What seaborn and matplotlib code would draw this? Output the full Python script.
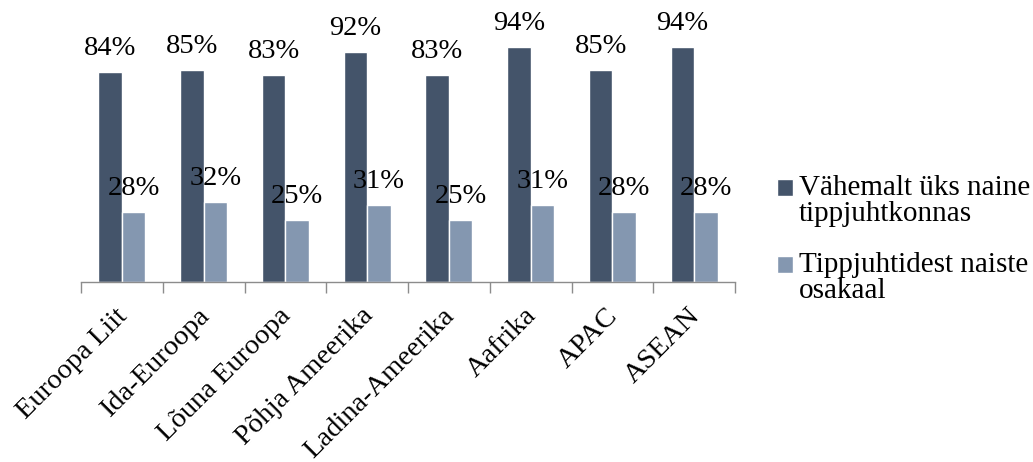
import matplotlib
matplotlib.use("Agg")
import matplotlib.pyplot as plt
import matplotlib.transforms as mtrans
from matplotlib.legend_handler import HandlerPatch
from matplotlib.patches import Patch, Rectangle
import seaborn as sns
import pandas as pd

categories = ["Euroopa Liit", "Ida-Euroopa", "Lõuna Euroopa", "Põhja Ameerika",
              "Ladina-Ameerika", "Aafrika", "APAC", "ASEAN"]
series_names = ["Vähemalt üks naine\ntippjuhtkonnas", "Tippjuhtidest naiste\nosakaal"]
at_least_one = [84, 85, 83, 92, 83, 94, 85, 94]
share_women = [28, 32, 25, 31, 25, 31, 28, 28]
colors = ["#44546A", "#8497B0"]

rows = []
for c, a, b in zip(categories, at_least_one, share_women):
    rows.append({"cat": c, "series": series_names[0], "val": a})
    rows.append({"cat": c, "series": series_names[1], "val": b})
df = pd.DataFrame(rows)

sns.set_style("white")
plt.rcParams["font.family"] = ["Liberation Serif", "DejaVu Serif"]
plt.rcParams["text.color"] = "black"
plt.rcParams["xtick.color"] = "#8c8c8c"
plt.rcParams["xtick.labelcolor"] = "black"

FS = 21

fig = plt.figure(figsize=(10.33, 4.62), dpi=100)
ax = fig.add_axes([81/1033, 180/462, 654/1033, 250/462])

sns.barplot(data=df, x="cat", y="val", hue="series", order=categories,
            hue_order=series_names, palette=colors, width=0.575,
            saturation=1, ax=ax, legend=False, errorbar=None)

ax.set_ylim(0, 100)
ax.set_xlim(-0.5, len(categories) - 0.5)
ax.set_xlabel("")
ax.set_ylabel("")
ax.set_yticks([])

for container in ax.containers:
    for bar in container:
        h = bar.get_height()
        ax.annotate(f"{int(round(h))}%", (bar.get_x() + bar.get_width() / 2, h),
                    xytext=(0, 12), textcoords="offset points",
                    ha="center", va="baseline", fontsize=20.5, color="black")

for s in ["top", "right", "left"]:
    ax.spines[s].set_visible(False)
ax.spines["bottom"].set_color("#8c8c8c")
ax.spines["bottom"].set_linewidth(1.0)

ax.set_xticks(range(len(categories)))
ax.set_xticklabels(categories, rotation=45, ha="right", va="center",
                   rotation_mode="anchor", fontsize=20.5, color="black")
ax.tick_params(axis="x", which="major", length=0, pad=16)
offset = mtrans.ScaledTranslation(0.02, -0.08, fig.dpi_scale_trans)
for lbl in ax.get_xticklabels():
    lbl.set_transform(lbl.get_transform() + offset)
ax.set_xticks([i - 0.5 for i in range(len(categories) + 1)], minor=True)
ax.tick_params(axis="x", which="minor", bottom=True, length=8, color="#8c8c8c",
               width=1.0, direction="out")


def top_square(legend, orig_handle, xdescent, ydescent, width, height, fontsize):
    shift = 0.45 * fontsize
    return Rectangle((-xdescent, -ydescent + shift), width, height)


handles = [Patch(facecolor=colors[0]), Patch(facecolor=colors[1])]
leg = fig.legend(handles, series_names, loc="upper left",
                 bbox_to_anchor=(777/1033, 1 - 175/462), frameon=False,
                 fontsize=FS, handlelength=0.55, handleheight=0.55,
                 handletextpad=0.2, labelspacing=0.85, borderaxespad=0,
                 borderpad=0,
                 handler_map={Patch: HandlerPatch(patch_func=top_square)})
for t in leg.get_texts():
    t.set_color("black")
    t.set_linespacing(1.0)

fig.savefig("out.png", dpi=100)
